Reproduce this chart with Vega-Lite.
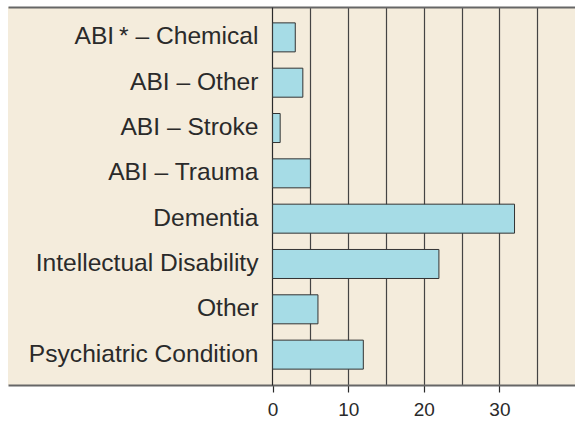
{
  "$schema": "https://vega.github.io/schema/vega-lite/v6.json",
  "autosize": "none",
  "width": 567,
  "height": 378,
  "padding": {"left": 8, "top": 7, "right": 0, "bottom": 38},
  "background": "white",
  "config": {
    "view": {"fill": "#f4ecdc", "stroke": null},
    "font": "Liberation Sans"
  },
  "data": {
    "values": [
      {"category": "ABI\u2009* – Chemical", "value": 3},
      {"category": "ABI – Other", "value": 4},
      {"category": "ABI – Stroke", "value": 1},
      {"category": "ABI – Trauma", "value": 5},
      {"category": "Dementia", "value": 32},
      {"category": "Intellectual Disability", "value": 22},
      {"category": "Other", "value": 6},
      {"category": "Psychiatric Condition", "value": 12}
    ]
  },
  "resolve": {"axis": {"x": "independent"}},
  "layer": [
    {
      "mark": {"type": "bar", "fill": "#a6dce6", "stroke": "#333333", "strokeWidth": 1},
      "encoding": {
        "y": {
          "field": "category", "type": "nominal", "sort": null,
          "scale": {"paddingInner": 0.36, "paddingOuter": 0.35},
          "axis": {
            "title": null, "offset": -264, "ticks": false, "labelPadding": 14,
            "labelFontSize": 24.6, "labelColor": "#2a2a2a", "labelLimit": 400,
            "domainColor": "#2a2a2a", "domainWidth": 1.2, "grid": false
          }
        },
        "x": {
          "field": "value", "type": "quantitative",
          "scale": {"domain": [-35, 40], "nice": false, "zero": false},
          "axis": {
            "title": null, "orient": "bottom", "values": [0, 10, 20, 30],
            "grid": false, "ticks": true, "tickSize": 7, "tickColor": "#2a2a2a", "tickWidth": 1.2,
            "domainColor": "#666666", "domainWidth": 2,
            "labelFontSize": 19, "labelColor": "#2a2a2a", "labelPadding": 8
          }
        }
      }
    },
    {
      "mark": {"type": "bar", "opacity": 0},
      "encoding": {
        "y": {"field": "category", "type": "nominal", "sort": null},
        "x": {
          "field": "value", "type": "quantitative",
          "axis": {
            "title": null, "orient": "top", "values": [5, 10, 15, 20, 25, 30, 35],
            "grid": true, "gridColor": "#444444", "gridWidth": 1.2, "gridOpacity": 1,
            "ticks": false, "labels": false,
            "domainColor": "#666666", "domainWidth": 2
          }
        }
      }
    }
  ]
}
